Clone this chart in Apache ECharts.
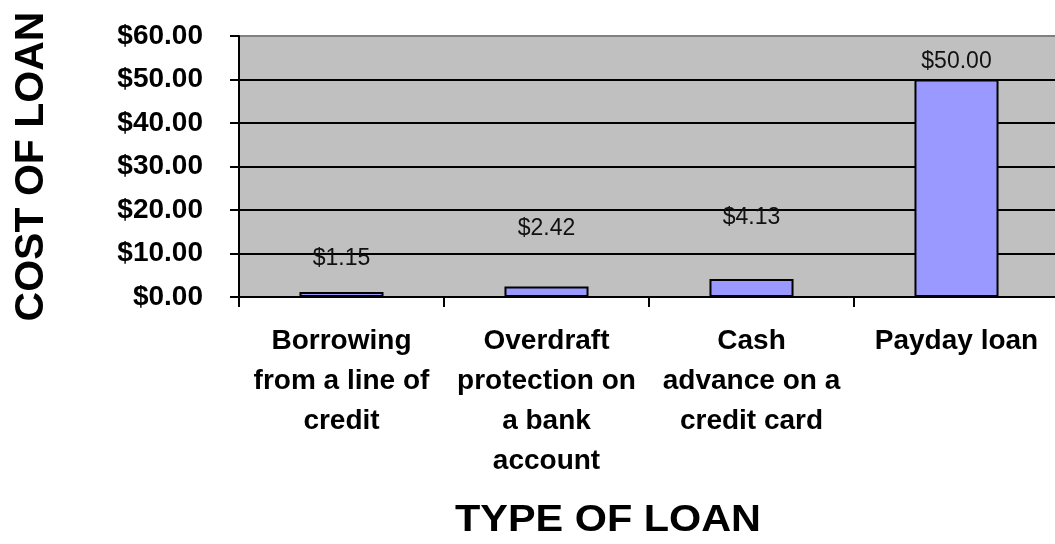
<!DOCTYPE html>
<html>
<head>
<meta charset="utf-8">
<script src="https://cdn.jsdelivr.net/npm/echarts@6/dist/echarts.min.js"></script>
<style>
html,body{margin:0;padding:0;background:#fff;}
#chart{width:1055px;height:544px;}
</style>
</head>
<body>
<div id="chart"></div>
<script>
// ---- data ----
const categories = [
  "Borrowing\nfrom a line of\ncredit",
  "Overdraft\nprotection on\na bank\naccount",
  "Cash\nadvance on a\ncredit card",
  "Payday loan"
];
const costValues = [1.15, 2.42, 4.13, 50.00];
const yTickValues = [0, 10, 20, 30, 40, 50, 60];
// label gaps above bars (style, as seen in the reference)
const labelGaps = [22, 46, 50, 6];

const FONT = "'Liberation Sans', Arial, sans-serif";
const money = v => '$' + Number(v).toFixed(2);

const chart = echarts.init(document.getElementById('chart'), null, {renderer: 'canvas'});
const option = {
  animation: false,
  backgroundColor: '#ffffff',
  grid: {
    left: 239, top: 36, width: 820, height: 261,
    containLabel: false, outerBoundsMode: 'none',
    show: true, backgroundColor: '#C0C0C0', borderWidth: 0
  },
  xAxis: {
    type: 'category',
    data: categories,
    boundaryGap: true,
    axisLine: {show: true, lineStyle: {color: '#000', width: 2}},
    axisTick: {show: true, length: 10, lineStyle: {color: '#000', width: 2}},
    axisLabel: {
      interval: 0, margin: 24, color: '#000',
      fontFamily: FONT, fontWeight: 'bold', fontSize: 28, lineHeight: 40, align: 'center'
    },
    splitLine: {show: false}
  },
  yAxis: {
    type: 'value',
    min: yTickValues[0], max: yTickValues[yTickValues.length - 1], interval: 10,
    name: 'COST OF LOAN',
    nameLocation: 'middle', nameRotate: 90, nameGap: 187,
    nameTextStyle: {fontFamily: FONT, fontWeight: 'bold', fontSize: 41, color: '#000'},
    axisLine: {show: true, lineStyle: {color: '#000', width: 2}},
    axisTick: {show: true, length: 9, lineStyle: {color: '#000', width: 2}},
    axisLabel: {
      margin: 36, color: '#000', fontFamily: FONT, fontWeight: 'bold', fontSize: 28,
      formatter: v => money(v)
    },
    splitLine: {
      show: true,
      lineStyle: {color: ['#000', '#000', '#000', '#000', '#000', '#000', '#808080'], width: 2}
    }
  },
  graphic: [{
    type: 'text',
    x: 608, y: 521,
    scaleX: 1.15,
    style: {
      text: 'TYPE OF LOAN',
      x: 0, y: 0,
      align: 'center', verticalAlign: 'middle',
      font: "bold 36px 'Liberation Sans', Arial, sans-serif",
      fill: '#000'
    }
  }],
  series: [{
    type: 'bar',
    barWidth: '41%',
    data: costValues.map((v, i) => ({value: v, label: {distance: labelGaps[i]}})),
    itemStyle: {color: '#9999FF', borderColor: '#000', borderWidth: 2},
    label: {
      show: true, position: 'top',
      fontFamily: FONT, fontSize: 23, color: '#111',
      formatter: p => money(p.value)
    }
  }]
};
chart.setOption(option);
</script>
</body>
</html>
